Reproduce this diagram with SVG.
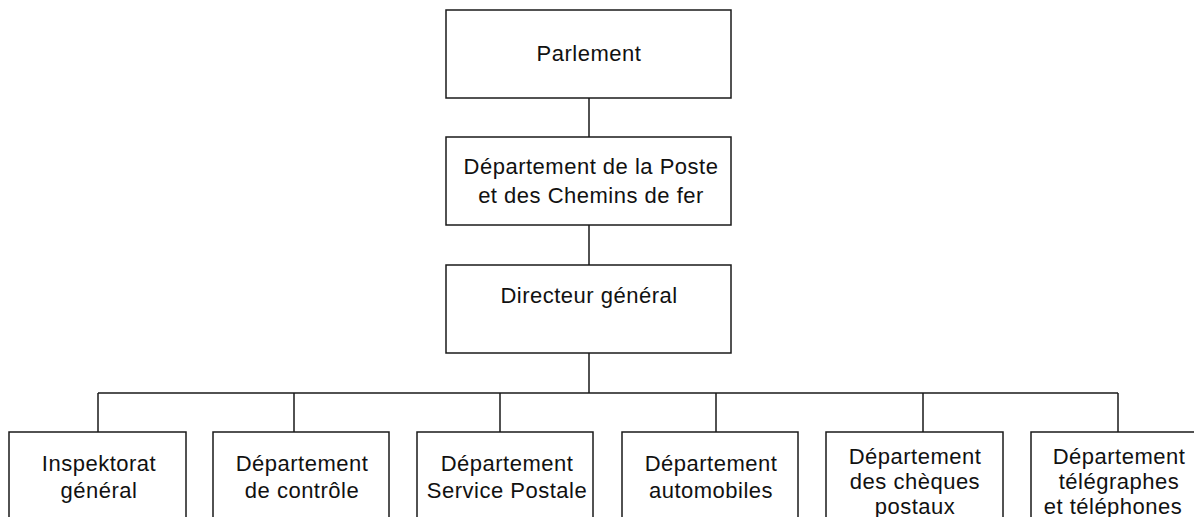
<svg xmlns="http://www.w3.org/2000/svg" width="1194" height="517" viewBox="0 0 1194 517">
<style>
.box{fill:#fff;stroke:#1a1a1a;stroke-width:1.5}
path{fill:none;stroke:#1a1a1a;stroke-width:1.5}
text{font-family:"Liberation Sans",Arial,sans-serif;font-size:22px;letter-spacing:0.5px;fill:#111;text-anchor:middle}
</style>
<rect width="1194" height="517" fill="#fff"/>
<g id="connectors">
<path d="M589 98V137M589 225V265M589 353V393M98 393H1118M98 393V432M294 393V432M500 393V432M716 393V432M923 393V432M1118 393V432"/>
</g>
<g id="parlement"><rect class="box" x="446" y="10" width="285" height="88"/><text x="589" y="61">Parlement</text></g>
<g id="departement-poste"><rect class="box" x="446" y="137" width="285" height="88"/><text x="591" y="174">Département de la Poste</text><text x="591" y="203">et des Chemins de fer</text></g>
<g id="directeur"><rect class="box" x="446" y="265" width="285" height="88"/><text x="589" y="303">Directeur général</text></g>
<g id="inspektorat"><rect class="box" x="9" y="432" width="177" height="100"/><text x="99" y="471">Inspektorat</text><text x="99" y="498">général</text></g>
<g id="controle"><rect class="box" x="213" y="432" width="176" height="100"/><text x="302" y="471">Département</text><text x="302" y="498">de contrôle</text></g>
<g id="service-postale"><rect class="box" x="417" y="432" width="176" height="100"/><text x="507" y="471">Département</text><text x="507" y="498">Service Postale</text></g>
<g id="automobiles"><rect class="box" x="622" y="432" width="176" height="100"/><text x="711" y="471">Département</text><text x="711" y="498">automobiles</text></g>
<g id="cheques"><rect class="box" x="826" y="432" width="177" height="100"/><text x="915" y="464">Département</text><text x="915" y="489">des chèques</text><text x="915" y="514">postaux</text></g>
<g id="telegraphes"><rect class="box" x="1031" y="432" width="177" height="100"/><text x="1119" y="464">Département</text><text x="1119" y="489">télégraphes</text><text x="1113" y="514">et téléphones</text></g>
</svg>
